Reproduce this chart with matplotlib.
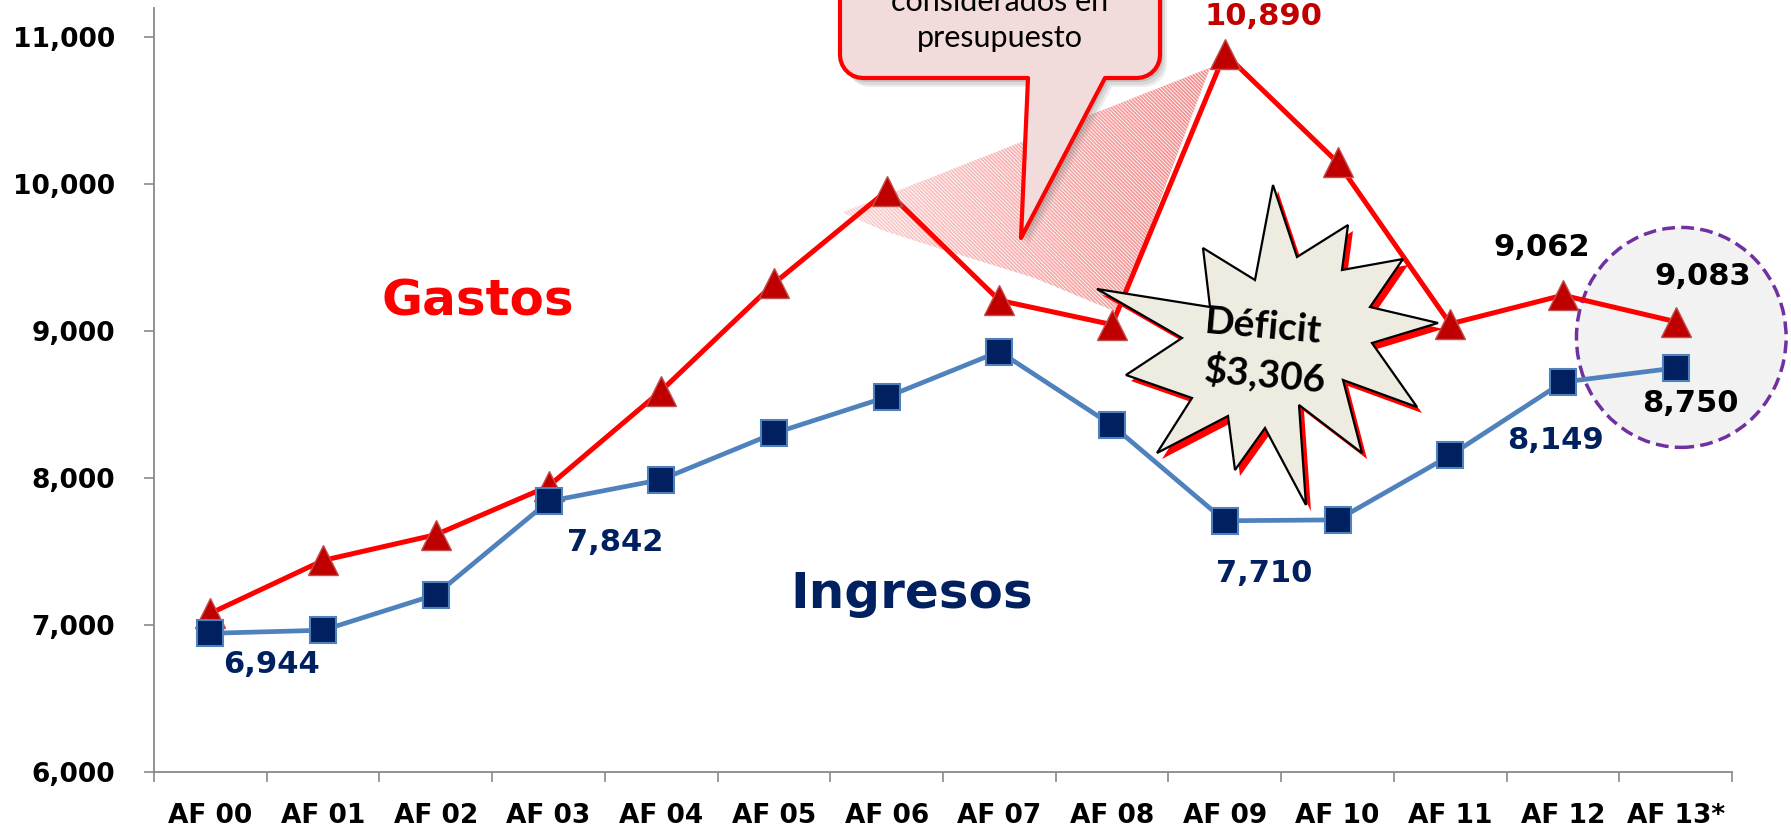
import numpy as np
import matplotlib
matplotlib.use('Agg')
import matplotlib.pyplot as plt
from matplotlib.patches import Polygon, Ellipse
from matplotlib.transforms import Affine2D

years = ['AF 00', 'AF 01', 'AF 02', 'AF 03', 'AF 04', 'AF 05', 'AF 06',
         'AF 07', 'AF 08', 'AF 09', 'AF 10', 'AF 11', 'AF 12', 'AF 13*']
gastos = [7080, 7440, 7615, 7945, 8595, 9325, 9955, 9210, 9045, 10890,
          10150, 9050, 9245, 9065]
ingresos = [6944, 6965, 7207, 7842, 7990, 8305, 8552, 8862, 8360, 7710,
            7716, 8155, 8654, 8750]
yticks = [6000, 7000, 8000, 9000, 10000, 11000]

# data labels shown on the chart (index -> text)
labels_gastos = {9: '10,890', 12: '9,062', 13: '9,083'}
labels_ingresos = {0: '6,944', 3: '7,842', 9: '7,710', 11: '8,149', 13: '8,750'}

W, H, DPI = 1791, 826, 100
RED = '#FF0000'
DRED = '#C00000'
NAVY = '#002060'
BLUE = '#4F81BD'
GREY = '#898989'

plt.rcParams['hatch.linewidth'] = 1.3

fig = plt.figure(figsize=(W / DPI, H / DPI), dpi=DPI)
# pixel coords, origin top-left, for the drawn callouts
px = Affine2D().scale(1 / DPI, -1 / DPI).translate(0, H / DPI) + fig.dpi_scale_trans

ax = fig.add_axes([154 / W, 1 - 772 / H, 1578 / W, 764 / H])
x = np.arange(len(years))

# highlight circle around the last year
ax.add_patch(Ellipse((13.05, 8958), 1.86, 1497, fc='#F2F2F2', ec='#7030A0',
                     lw=2.5, ls=(0, (3.7, 1.8)), clip_on=False, zorder=1))

# hatched area (gastos no considerados), fading towards the left
hatch_pts = [(5.61, 9808), (8.87, 10794), (8.05, 9128), (7.30, 9366),
             (6.47, 9563), (5.97, 9686)]
hp = Polygon(hatch_pts, closed=True, fc='none', ec='#F38E8E',
             lw=0, hatch='\\' * 9, zorder=1.5)
ax.add_patch(hp)
fade = np.ones((2, 60, 4))
fade[..., 3] = np.linspace(0.6, 0.0, 60)
im = ax.imshow(fade, extent=(5.6, 8.9, 9100, 10800), aspect='auto',
               interpolation='bilinear', zorder=1.6)
im.set_clip_path(hp)
ax.set_aspect('auto')

ax.plot(x, gastos, color=RED, lw=3.6, marker='^', ms=21, mfc=DRED,
        mec='#C0504D', mew=1, zorder=3)
ax.plot(x, ingresos, color=BLUE, lw=3.4, marker='s', ms=19, mfc=NAVY,
        mec=BLUE, mew=1.5, zorder=3)

off_g = {9: (39, 37), 12: (-21, 48), 13: (27, 45)}
col_g = {9: DRED, 12: 'black', 13: 'black'}
for i, t in labels_gastos.items():
    dx, dy = off_g[i]
    ax.annotate(t, (i, gastos[i]), xytext=(dx * 0.72, dy * 0.72),
                textcoords='offset points', ha='center', va='center',
                fontsize=22, fontweight='bold', color=col_g[i], zorder=6,
                annotation_clip=False)

off_i = {0: (61, -31), 3: (67, -41), 9: (39, -53), 11: (105, 15), 13: (15, -36)}
for i, t in labels_ingresos.items():
    dx, dy = off_i[i]
    c = 'black' if i == 13 else NAVY
    ax.annotate(t, (i, ingresos[i]), xytext=(dx * 0.72, dy * 0.72),
                textcoords='offset points', ha='center', va='center',
                fontsize=22, fontweight='bold', color=c, zorder=6)

ax.text(2.37, 9200, 'Gastos', color=RED, fontsize=36, fontweight='bold',
        ha='center', va='center')
ax.text(6.22, 7209, 'Ingresos', color=NAVY, fontsize=36, fontweight='bold',
        ha='center', va='center')

# speech bubble
r = 23
bub = [(840, -80), (840, 78 - r)]
for a in np.linspace(np.pi, np.pi / 2, 8)[1:]:
    bub.append((840 + r + r * np.cos(a), 78 - r + r * np.sin(a)))
bub += [(1028, 78), (1021, 238), (1105, 78)]
for a in np.linspace(np.pi / 2, 0, 8):
    bub.append((1160 - r + r * np.cos(a), 78 - r + r * np.sin(a)))
bub += [(1160, -80)]
for sx, sy, al in [(7, 9, 0.12), (5, 7, 0.15), (3, 4, 0.2)]:
    sh = [(p[0] + sx, p[1] + sy) for p in bub]
    fig.add_artist(Polygon(sh, closed=True, fc='#707070', ec='none',
                           alpha=al, transform=px, zorder=4))
fig.add_artist(Polygon(bub, closed=True, fc='#F2DCDB', ec=RED, lw=3,
                       joinstyle='round', transform=px, zorder=4))
fig.text(1000 / W, 1 - 2 / H, 'considerados en', fontsize=22, family='Lato',
         ha='center', va='center', zorder=5)
fig.text(1000 / W, 1 - 38 / H, 'presupuesto', fontsize=22, family='Lato',
         ha='center', va='center', zorder=5)

# explosion shape
star = [(1273, 185), (1297, 257), (1348, 225), (1342, 270), (1403, 259),
        (1370, 307), (1438, 323), (1372, 343), (1417, 407), (1343, 380),
        (1362, 453), (1299, 405), (1306, 505), (1265, 428), (1235, 470),
        (1228, 416), (1157, 453), (1192, 398), (1126, 375), (1182, 338),
        (1097, 289), (1210, 307), (1203, 248), (1255, 280)]
fig.add_artist(Polygon([(p[0] + 5, p[1] + 6) for p in star], closed=True,
                       fc=RED, ec='none', transform=px, zorder=4))
fig.add_artist(Polygon(star, closed=True, fc='#EEECE1', ec='black', lw=1.6,
                       transform=px, zorder=4))
fig.text(1263 / W, 1 - 327 / H, 'Déficit', fontsize=28, fontweight='bold',
         family='Lato', ha='center', va='center', rotation=-5, zorder=5)
fig.text(1265 / W, 1 - 374 / H, '$3,306', fontsize=28, fontweight='bold',
         family='Lato', ha='center', va='center', rotation=-5, zorder=5)

ax.set_xlim(-0.5, len(years) - 0.5)
ax.set_ylim(6000, 11200)
ax.set_yticks(yticks)
ax.set_yticklabels([f'{v:,}' for v in yticks])
ax.set_xticks(np.arange(len(years) + 1) - 0.5)
ax.set_xticklabels([])
ax.set_xticks(x, minor=True)
ax.set_xticklabels(years, minor=True)
ax.tick_params(axis='x', which='minor', length=0, pad=22)
ax.tick_params(axis='both', which='major', length=7, width=1.2, color=GREY,
               direction='out')
ax.tick_params(axis='y', pad=21)
for lab in ax.get_xticklabels(minor=True) + ax.get_yticklabels():
    lab.set_fontsize(19)
    lab.set_fontweight('bold')
for s in ['top', 'right']:
    ax.spines[s].set_visible(False)
for s in ['left', 'bottom']:
    ax.spines[s].set_color(GREY)
    ax.spines[s].set_linewidth(1.3)

fig.savefig('out.png', dpi=DPI)
